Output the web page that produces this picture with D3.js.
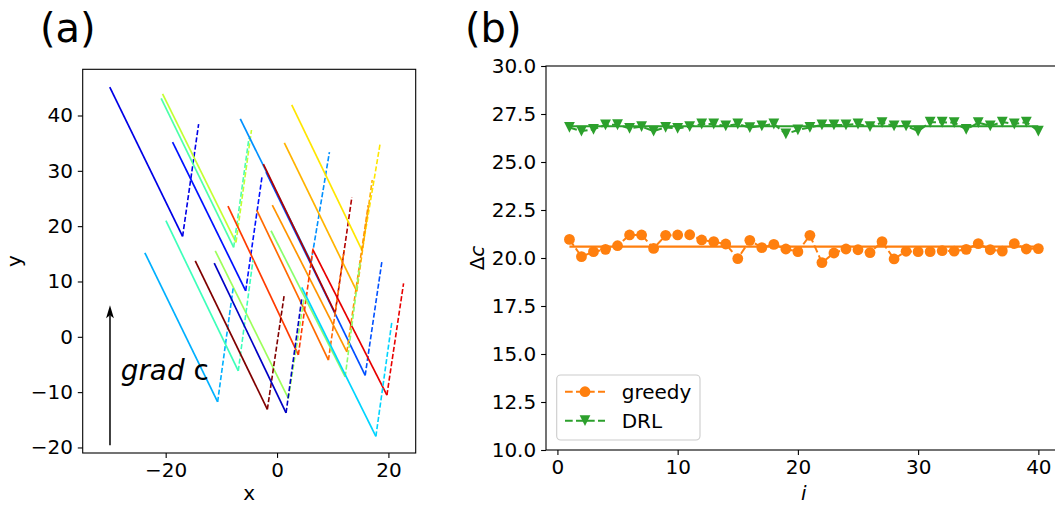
<!DOCTYPE html>
<html><head><meta charset="utf-8">
<script src="https://cdn.jsdelivr.net/npm/d3@7"></script>
<style>
body{margin:0;background:#fff}
svg{display:block}
text{font-family:"DejaVu Sans",sans-serif;fill:#000}
</style>
</head><body>
<svg id="chart" width="1055" height="506"></svg>
<script>
// ---------- Panel (a) data ----------
const trajColors = ["#0000e6","#0010ff","#c4ff33","#4dffaa","#0090ff","#0050ff","#b00000","#ffe600","#ffb300","#ff9400","#ff6a00","#ff3b00","#e80000","#8aff6d","#9dff5a","#00d4ff","#00b0ff","#3dffba","#800000","#0000c4"];
const trajStart = [[-30.04,45.15],[-18.76,35.21],[-20.56,43.89],[-20.81,43.11],[-6.60,39.37],[-1.98,29.78],[-2.46,31.23],[2.64,41.90],[1.31,35.03],[-0.85,23.82],[-3.65,22.91],[-8.81,23.63],[6.47,15.68],[-1.08,19.17],[-11.10,15.55],[4.44,8.93],[-23.74,15.19],[-19.96,20.98],[-14.69,13.74],[-11.28,13.33]];
const trajTurn = [[-16.96,18.16],[-5.63,8.32],[-7.37,17.07],[-7.79,16.17],[6.12,13.51],[15.83,-6.98],[10.43,4.29],[15.29,15.59],[14.33,8.21],[12.54,-2.71],[9.23,-4.21],[3.83,-3.25],[19.73,-10.54],[12.23,-7.23],[2.03,-11.14],[17.75,-18.01],[-10.67,-11.75],[-6.96,-6.15],[-1.74,-13.13],[1.62,-13.74]];
const trajEnd = [[-14.08,38.46],[-2.70,28.93],[-4.59,37.38],[-5.04,35.93],[9.41,33.40],[18.83,13.63],[13.44,25.26],[18.53,35.03],[17.09,28.34],[16.37,23.82],[12.05,15.68],[6.47,16.04],[22.72,9.66],[14.93,13.51],[4.86,7.00],[20.63,2.78],[-7.86,8.99],[-4.32,13.87],[1.31,7.72],[4.44,6.94]];
const aXTicks = [-20, 0, 20];
const aYTicks = [-20, -10, 0, 10, 20, 30, 40];
const arrowFrom = [-30, -19.6], arrowTo = [-30, 5.7];

// ---------- Panel (b) data ----------
const iValues = [1,2,3,4,5,6,7,8,9,10,11,12,13,14,15,16,17,18,19,20,21,22,23,24,25,26,27,28,29,30,31,32,33,34,35,36,37,38,39,40];
const greedy = [20.97,20.07,20.33,20.45,20.64,21.2,21.2,20.5,21.18,21.2,21.21,20.94,20.85,20.73,19.97,20.92,20.54,20.71,20.47,20.33,21.18,19.76,20.26,20.47,20.43,20.28,20.85,19.95,20.35,20.33,20.33,20.38,20.36,20.45,20.75,20.43,20.36,20.75,20.47,20.49];
const drl = [26.8,26.61,26.7,26.93,26.94,26.75,26.84,26.61,26.8,26.75,26.84,26.98,26.98,26.88,26.98,26.79,26.88,26.98,26.46,26.67,26.8,26.93,26.93,26.93,26.98,26.84,27.05,26.88,26.88,26.61,27.07,27.07,27.05,26.7,27.05,26.88,27.08,26.98,27.08,26.61];
const greedyMean = 20.59;
const drlMean = 26.86;
const bXTicks = [0, 10, 20, 30, 40];
const bYTicks = [10, 12.5, 15, 17.5, 20, 22.5, 25, 27.5, 30];
const seriesNames = ["greedy", "DRL"];
const seriesColors = ["#ff7f0e", "#2ca02c"];

const svg = d3.select("#chart");
const FS = 20;
const TL = 4.9, TP = 4.9;

// ---------- Panel (a) ----------
const ax = {l:82.7, r:415.7, t:69.3, b:453};
const xa = d3.scaleLinear().domain([-34.9, 24.9]).range([ax.l, ax.r]);
const ya = d3.scaleLinear().domain([-21.0, 48.35]).range([ax.b, ax.t]);
const ga = svg.append("g");

const line = d3.line().x(d => xa(d[0])).y(d => ya(d[1]));
trajColors.forEach((c, k) => {
  ga.append("path").attr("d", line([trajStart[k], trajTurn[k]]))
    .attr("fill","none").attr("stroke", c).attr("stroke-width", 1.7);
  ga.append("path").attr("d", line([trajTurn[k], trajEnd[k]]))
    .attr("fill","none").attr("stroke", c).attr("stroke-width", 1.6)
    .attr("stroke-dasharray", "5.1,2.2");
});

// arrow
const ax0 = xa(arrowFrom[0]), ay0 = ya(arrowFrom[1]), ay1 = ya(arrowTo[1]);
ga.append("line").attr("x1", ax0).attr("x2", ax0).attr("y1", ay0).attr("y2", ay1 + 10)
  .attr("stroke", "#000").attr("stroke-width", 1.5);
ga.append("path").attr("d", `M${ax0},${ay1} L${ax0-3.9},${ay1+13} L${ax0},${ay1+10} L${ax0+3.9},${ay1+13} Z`)
  .attr("fill", "#000");
const gt = ga.append("text").attr("x", xa(-28.06)).attr("y", ya(-7.8)).attr("font-size", 27.8);
gt.append("tspan").attr("font-style", "italic").text("grad");
gt.append("tspan").text(" c");

ga.append("rect").attr("x", ax.l).attr("y", ax.t).attr("width", ax.r-ax.l).attr("height", ax.b-ax.t)
  .attr("fill","none").attr("stroke","#000").attr("stroke-width",1.1);

ga.append("g").attr("transform", `translate(0,${ax.b})`)
  .call(d3.axisBottom(xa).tickValues(aXTicks).tickSize(TL).tickPadding(TP).tickSizeOuter(0).tickFormat(d3.format("d")));
ga.append("g").attr("transform", `translate(${ax.l},0)`)
  .call(d3.axisLeft(ya).tickValues(aYTicks).tickSize(TL).tickPadding(TP).tickSizeOuter(0).tickFormat(d3.format("d")));

ga.append("text").attr("x", (ax.l+ax.r)/2).attr("y", 500).attr("text-anchor","middle").attr("font-size", FS).text("x");
ga.append("text").attr("transform", `translate(21,${(ax.t+ax.b)/2}) rotate(-90)`).attr("text-anchor","middle").attr("font-size", FS).text("y");
ga.append("text").attr("x", 40).attr("y", 42).attr("font-size", 40).text("(a)");

// ---------- Panel (b) ----------
const bx = {l:546, r:1061.8, t:66, b:450};
const xb = d3.scaleLinear().domain([-0.95, 41.95]).range([bx.l, bx.r]);
const yb = d3.scaleLinear().domain([10, 30]).range([bx.b, bx.t]);
const gb = svg.append("g");

const series = [greedy, drl];
const means = [greedyMean, drlMean];
const lineB = d3.line().x((d,i) => xb(iValues[i])).y(d => yb(d));
series.forEach((s, k) => {
  gb.append("path").attr("d", lineB(s)).attr("fill","none").attr("stroke", seriesColors[k])
    .attr("stroke-width", 2).attr("stroke-dasharray", "7.7,3.3");
  gb.append("line").attr("x1", xb(iValues[0])).attr("x2", xb(iValues[iValues.length-1]))
    .attr("y1", yb(means[k])).attr("y2", yb(means[k]))
    .attr("stroke", seriesColors[k]).attr("stroke-width", 2.1);
});
const MS = 5.4;
function tri(x, y, s){ return `M${x},${y+s} L${x-s},${y-s} L${x+s},${y-s} Z`; }
gb.append("g").selectAll("circle").data(greedy).join("circle")
  .attr("cx", (d,i) => xb(iValues[i])).attr("cy", d => yb(d)).attr("r", MS).attr("fill", seriesColors[0]);
gb.append("g").selectAll("path").data(drl).join("path")
  .attr("d", (d,i) => tri(xb(iValues[i]), yb(d), MS)).attr("fill", seriesColors[1]);

gb.append("rect").attr("x", bx.l).attr("y", bx.t).attr("width", bx.r-bx.l).attr("height", bx.b-bx.t)
  .attr("fill","none").attr("stroke","#000").attr("stroke-width",1.1);
gb.append("g").attr("transform", `translate(0,${bx.b})`)
  .call(d3.axisBottom(xb).tickValues(bXTicks).tickSize(TL).tickPadding(TP).tickSizeOuter(0).tickFormat(d3.format("d")));
gb.append("g").attr("transform", `translate(${bx.l},0)`)
  .call(d3.axisLeft(yb).tickValues(bYTicks).tickSize(TL).tickPadding(TP).tickSizeOuter(0).tickFormat(d3.format(".1f")));

gb.append("text").attr("x", (bx.l+bx.r)/2).attr("y", 500).attr("text-anchor","middle").attr("font-size", FS)
  .attr("font-style","italic").text("i");
const yl = gb.append("text").attr("transform", `translate(484,${(bx.t+bx.b)/2}) rotate(-90)`).attr("text-anchor","middle").attr("font-size", FS);
yl.append("tspan").text("Δ");
yl.append("tspan").attr("font-style","italic").text("c");
gb.append("text").attr("x", 465).attr("y", 42).attr("font-size", 40).text("(b)");

// legend
const lg = gb.append("g");
lg.append("rect").attr("x", 556.7).attr("y", 375).attr("width", 143.3).attr("height", 65).attr("rx", 4)
  .attr("fill", "#fff").attr("fill-opacity", 0.8).attr("stroke", "#cccccc").attr("stroke-width", 1.1);
const rowY = [391.7, 420.7];
seriesNames.forEach((n, k) => {
  lg.append("line").attr("x1", 565).attr("x2", 605).attr("y1", rowY[k]).attr("y2", rowY[k])
    .attr("stroke", seriesColors[k]).attr("stroke-width", 2).attr("stroke-dasharray", "7.7,3.3");
  if (k === 0) lg.append("circle").attr("cx", 585).attr("cy", rowY[k]).attr("r", MS).attr("fill", seriesColors[k]);
  else lg.append("path").attr("d", tri(585, rowY[k], MS)).attr("fill", seriesColors[k]);
  lg.append("text").attr("x", 621.7).attr("y", rowY[k]).attr("dy", "0.36em").attr("font-size", FS).text(n);
});

// axis styling
svg.selectAll(".domain").remove();
svg.selectAll(".tick line").attr("stroke", "#000").attr("stroke-width", 1.1);
svg.selectAll(".tick text").attr("font-size", FS).attr("font-family", "DejaVu Sans").attr("fill", "#000");
</script>
</body></html>
